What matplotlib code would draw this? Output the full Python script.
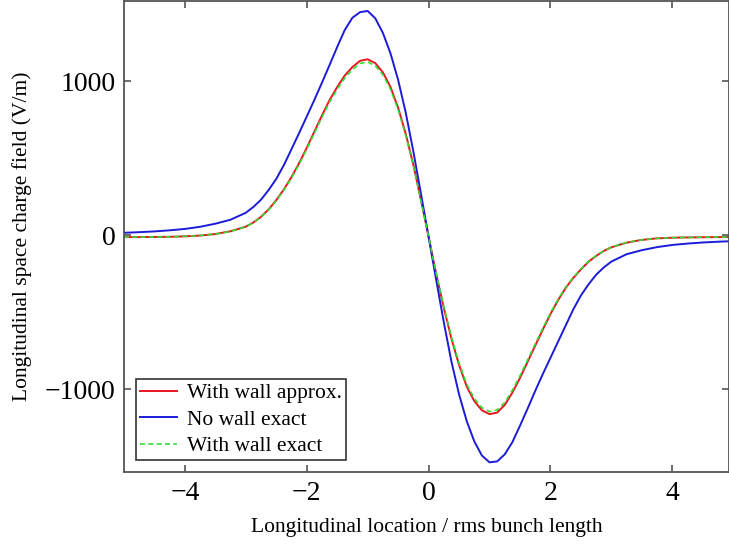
import matplotlib
matplotlib.use('Agg')
import matplotlib.pyplot as plt

plt.rcParams['font.family'] = ['Liberation Serif', 'DejaVu Serif']

# longitudinal location (rms bunch lengths)
pos = [-5.0, -4.75, -4.5, -4.25, -4.0, -3.75, -3.5, -3.25,
       -3.0, -2.875, -2.75, -2.625, -2.5, -2.375, -2.25, -2.125,
       -2.0, -1.875, -1.75, -1.625, -1.5, -1.375, -1.25, -1.125,
       -1.0, -0.875, -0.75, -0.625, -0.5, -0.375, -0.25, -0.125,
       0.0,
       0.125, 0.25, 0.375, 0.5, 0.625, 0.75, 0.875, 1.0,
       1.125, 1.25, 1.375, 1.5, 1.625, 1.75, 1.875, 2.0,
       2.125, 2.25, 2.375, 2.5, 2.625, 2.75, 2.875, 3.0,
       3.25, 3.5, 3.75, 4.0, 4.25, 4.5, 4.75, 5.0]

# space charge field (V/m)
wall_approx = [-13, -13, -12, -11, -8, -3, 7, 25,
               55, 82, 119, 167, 227, 297, 377, 467,
               567, 672, 777, 877, 962, 1037, 1092, 1132,
               1142, 1117, 1057, 962, 827, 657, 457, 227,
               -10,
               -253, -473, -673, -843, -983, -1078, -1138, -1163,
               -1153, -1103, -1023, -928, -823, -718, -613, -513,
               -423, -343, -278, -223, -173, -135, -103, -79,
               -49, -31, -21, -17, -15, -14, -13, -13]
no_wall = [15, 19, 24, 31, 40, 54, 74, 100,
           145, 183, 230, 293, 365, 455, 558, 663,
           770, 878, 990, 1105, 1222, 1333, 1412, 1448,
           1456, 1408, 1313, 1180, 1008, 795, 543, 268,
           -12,
           -292, -567, -822, -1035, -1207, -1340, -1432, -1476,
           -1470, -1424, -1345, -1238, -1127, -1012, -902, -797,
           -692, -587, -482, -392, -320, -257, -210, -172,
           -124, -98, -78, -64, -55, -48, -43, -39]
wall_exact = [-13, -13, -12, -11, -8, -3, 7, 24,
              54, 81, 117, 164, 223, 292, 371, 460,
              558, 662, 765, 864, 947, 1021, 1075, 1115,
              1125, 1100, 1041, 947, 814, 647, 450, 223,
              -10,
              -249, -466, -663, -831, -968, -1062, -1121, -1146,
              -1136, -1087, -1008, -914, -811, -707, -604, -506,
              -417, -338, -274, -220, -171, -133, -102, -78,
              -48, -31, -21, -17, -15, -14, -13, -13]

fig = plt.figure(figsize=(7.29, 5.44), dpi=100)
ax = fig.add_axes([0.170, 0.132, 0.830, 0.866])

ax.plot(pos, wall_approx, color='#e8141e', linewidth=1.4, label='With wall approx.')
ax.plot(pos, no_wall, color='#1c1cd8', linewidth=1.4, label='No wall exact')
ax.plot(pos, wall_exact, color='#33dd33', linewidth=1.2, linestyle=(0, (3, 2)),
        label='With wall exact')

ax.set_xlim(-5, 4.93)
ax.set_ylim(-1540, 1520)
ax.set_xticks([-4, -2, 0, 2, 4])
ax.set_yticks([-1000, 0, 1000])
ax.tick_params(direction='in', top=True, right=True, length=5, width=1.2,
               color='#555555', labelsize=20, pad=6)
for s in ax.spines.values():
    s.set_color('#555555')
    s.set_linewidth(1.3)

ax.set_xlabel('Longitudinal location / rms bunch length', fontsize=15.5, labelpad=9)
ax.set_ylabel('Longitudinal space charge field (V/m)', fontsize=15.5, labelpad=9)

leg = ax.legend(loc='lower left', bbox_to_anchor=(0.02, 0.025), fontsize=15.5,
                fancybox=False, framealpha=1, edgecolor='#333333',
                handlelength=1.7, handletextpad=0.45, borderpad=0.2,
                labelspacing=0.3, borderaxespad=0)
leg.get_frame().set_linewidth(1.2)

fig.savefig('out.png', dpi=100)
